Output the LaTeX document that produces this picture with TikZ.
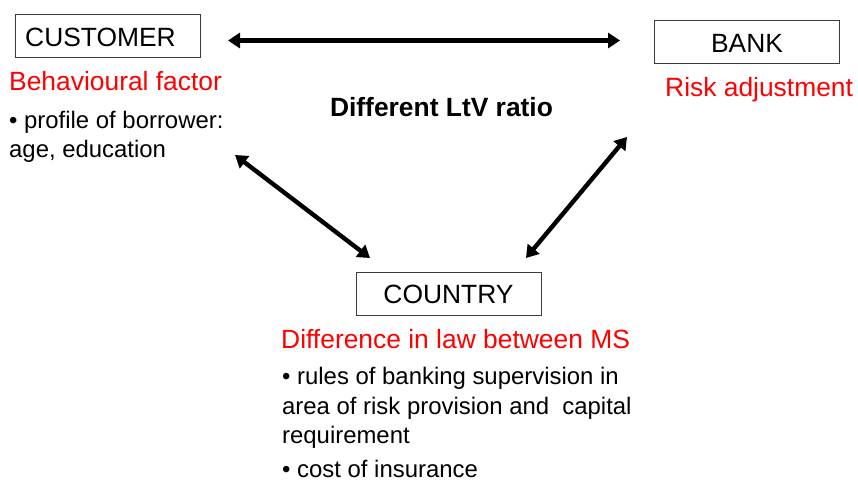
\documentclass[tikz,border=0pt]{standalone}
\usepackage{fontspec}
\setmainfont{Liberation Sans}[Ligatures=CommonOff]
\usetikzlibrary{arrows.meta}
\definecolor{accent}{RGB}{255,0,0}
\definecolor{frame}{RGB}{60,60,60}

\begin{document}
\begin{tikzpicture}[x=1pt,y=-1pt,
  box/.style={draw=frame,line width=0.9pt,minimum width=185pt,minimum height=43pt,inner sep=0pt},
  head/.style={inner sep=0pt,font=\fontsize{26.4}{30}\selectfont},
  title/.style={head,anchor=base west,text=accent},
  body/.style={anchor=base west,inner sep=0pt,font=\fontsize{23.9}{29}\selectfont},
  link/.style={line width=4.4pt,{Triangle[length=12pt,width=15pt]}-{Triangle[length=12pt,width=15pt]}}]
\useasboundingbox (0,0) rectangle (858,482);

% the three parties
\node[box] (cust) at (107.5,35.5) {};
\node[head,anchor=base west] (custtxt) at (25,46) {CUSTOMER};
\node[box] (bank) at (747,41.5) {};
\node[head,anchor=base] (banktxt) at (747,52) {BANK};
\node[box] (country) at (448.5,293.5) {};
\node[head,anchor=base] (countrytxt) at (448.5,303) {COUNTRY};

% customer side
\node[title] (behav) at (9,90) {Behavioural factor};
\node[body] (prof1) at (9,128) {\textbullet\ profile of borrower:};
\node[body] (prof2) at (9,157) {age, education};

% bank side
\node[title] (risk) at (665,96) {Risk adjustment};

% centre caption
\node[head,anchor=base,font=\fontsize{26.4}{30}\selectfont\bfseries] (ltv) at (441.5,116.5) {Different LtV ratio};

% country side
\node[title] (law) at (281,348) {Difference in law between MS};
\node[body] (rule1) at (282,384) {\textbullet\ rules of banking supervision in};
\node[body] (rule2) at (282,414) {area of risk provision and\ \ capital};
\node[body] (rule3) at (282,443) {requirement};
\node[body] (cost) at (282,477) {\textbullet\ cost of insurance};

% relations
\coordinate (h1) at (228,40.5);
\coordinate (h2) at (620,40.5);
\coordinate (l1) at (235,155);
\coordinate (l2) at (370,258);
\coordinate (r1) at (627,137);
\coordinate (r2) at (526,258);
\draw[link] (h1) -- (h2);
\draw[link] (l1) -- (l2);
\draw[link] (r1) -- (r2);
\end{tikzpicture}
\end{document}
